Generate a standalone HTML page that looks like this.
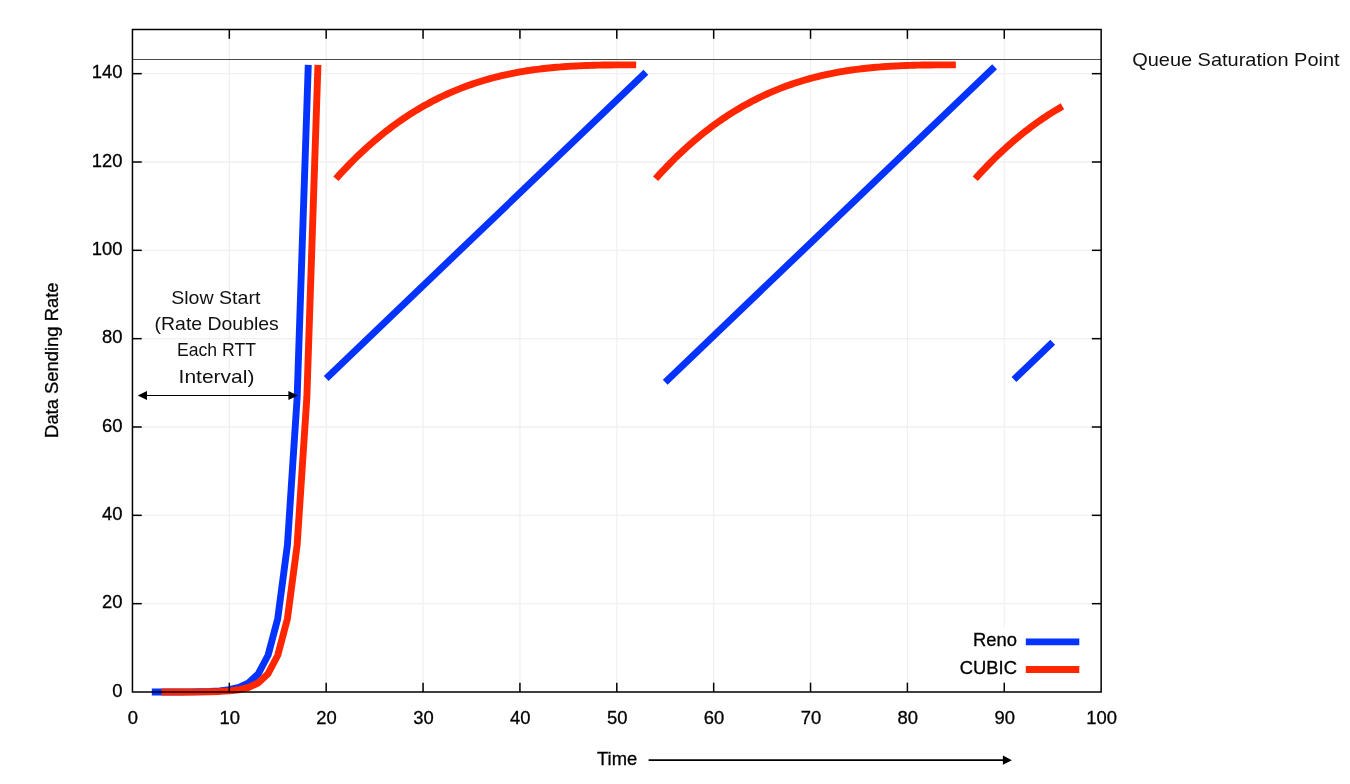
<!DOCTYPE html>
<html lang="en">
<head>
<meta charset="utf-8">
<title>Reno vs CUBIC</title>
<style>
html,body{margin:0;padding:0;background:#fff;}
body{width:1350px;height:784px;overflow:hidden;}
svg{display:block;}
text{font-family:"Liberation Sans",sans-serif;fill:#000;stroke:#000;stroke-width:0.3px;}
.tick{font-size:18.4px;}
.ann{font-size:18.6px;stroke:none;fill:#111;}
</style>
</head>
<body>
<svg width="1350" height="784" viewBox="0 0 1350 784">
<rect x="0" y="0" width="1350" height="784" fill="#ffffff"/>
<g stroke="#f0f0f0" stroke-width="1.3" fill="none">
<line x1="229.32" y1="29.5" x2="229.32" y2="692.0"/>
<line x1="326.19" y1="29.5" x2="326.19" y2="692.0"/>
<line x1="423.06" y1="29.5" x2="423.06" y2="692.0"/>
<line x1="519.93" y1="29.5" x2="519.93" y2="692.0"/>
<line x1="616.80" y1="29.5" x2="616.80" y2="692.0"/>
<line x1="713.67" y1="29.5" x2="713.67" y2="692.0"/>
<line x1="810.54" y1="29.5" x2="810.54" y2="692.0"/>
<line x1="907.41" y1="29.5" x2="907.41" y2="692.0"/>
<line x1="1004.28" y1="29.5" x2="1004.28" y2="692.0"/>
<line x1="132.45" y1="603.67" x2="1101.15" y2="603.67"/>
<line x1="132.45" y1="515.33" x2="1101.15" y2="515.33"/>
<line x1="132.45" y1="427.00" x2="1101.15" y2="427.00"/>
<line x1="132.45" y1="338.66" x2="1101.15" y2="338.66"/>
<line x1="132.45" y1="250.33" x2="1101.15" y2="250.33"/>
<line x1="132.45" y1="162.00" x2="1101.15" y2="162.00"/>
<line x1="132.45" y1="73.66" x2="1101.15" y2="73.66"/>
</g>
<rect x="948" y="628" width="152.15" height="55" fill="#ffffff"/>
<line x1="132.45" y1="59.5" x2="1101.15" y2="59.5" stroke="#4a4a4a" stroke-width="1.15"/>
<g fill="none" stroke="#0433ff" stroke-width="6.9" stroke-linejoin="round" stroke-linecap="butt">
<polyline points="151.82,691.99 161.51,691.98 171.20,691.96 180.88,691.93 190.57,691.86 200.26,691.71 209.95,691.43 219.63,690.85 229.32,689.70 239.01,687.41 248.69,682.81 258.38,673.63 268.07,655.25 277.75,618.51 287.44,545.01 297.13,398.02 308.27,64.83"/>
<polyline points="326.19,378.41 645.86,72.34"/>
<polyline points="665.23,382.17 994.59,66.82"/>
<polyline points="1013.97,379.41 1052.71,342.31"/>
</g>
<g fill="none" stroke="#ff2600" stroke-width="6.9" stroke-linejoin="round" stroke-linecap="butt">
<polyline points="161.51,691.99 171.20,691.98 180.88,691.96 190.57,691.93 200.26,691.86 209.95,691.71 219.63,691.43 229.32,690.85 239.01,689.70 248.69,687.41 258.38,682.81 268.07,673.63 277.75,655.25 287.44,618.51 297.13,545.01 306.82,398.02 317.96,64.83"/>
<polyline points="335.88,178.78 338.30,176.09 340.72,173.44 343.14,170.83 345.56,168.27 347.99,165.75 350.41,163.26 352.83,160.82 355.25,158.42 357.67,156.06 360.09,153.74 362.52,151.46 364.94,149.22 367.36,147.02 369.78,144.86 372.20,142.74 374.62,140.65 377.05,138.60 379.47,136.59 381.89,134.61 384.31,132.67 386.73,130.77 389.16,128.91 391.58,127.08 394.00,125.28 396.42,123.52 398.84,121.79 401.26,120.10 403.69,118.44 406.11,116.82 408.53,115.23 410.95,113.67 413.37,112.14 415.79,110.65 418.22,109.19 420.64,107.76 423.06,106.36 425.48,104.99 427.90,103.65 430.33,102.34 432.75,101.06 435.17,99.81 437.59,98.59 440.01,97.40 442.43,96.24 444.86,95.10 447.28,93.99 449.70,92.91 452.12,91.86 454.54,90.83 456.96,89.83 459.39,88.86 461.81,87.91 464.23,86.99 466.65,86.09 469.07,85.22 471.49,84.37 473.92,83.54 476.34,82.74 478.76,81.96 481.18,81.21 483.60,80.47 486.03,79.76 488.45,79.07 490.87,78.40 493.29,77.76 495.71,77.13 498.13,76.53 500.56,75.94 502.98,75.38 505.40,74.83 507.82,74.31 510.24,73.80 512.66,73.31 515.09,72.84 517.51,72.39 519.93,71.95 522.35,71.53 524.77,71.13 527.20,70.74 529.62,70.37 532.04,70.02 534.46,69.68 536.88,69.36 539.30,69.05 541.73,68.75 544.15,68.47 546.57,68.21 548.99,67.95 551.41,67.71 553.83,67.49 556.26,67.27 558.68,67.07 561.10,66.88 563.52,66.70 565.94,66.53 568.37,66.37 570.79,66.22 573.21,66.08 575.63,65.95 578.05,65.83 580.47,65.72 582.90,65.62 585.32,65.52 587.74,65.44 590.16,65.36 592.58,65.28 595.00,65.22 597.43,65.16 599.85,65.11 602.27,65.06 604.69,65.02 607.11,64.98 609.53,64.95 611.96,64.93 614.38,64.90 616.80,64.89 619.22,64.87 621.64,64.86 624.07,64.85 626.49,64.84 628.91,64.84 631.33,64.83 633.75,64.83 636.17,64.83"/>
<polyline points="655.55,178.78 657.97,176.09 660.39,173.44 662.81,170.83 665.23,168.27 667.66,165.75 670.08,163.26 672.50,160.82 674.92,158.42 677.34,156.06 679.77,153.74 682.19,151.46 684.61,149.22 687.03,147.02 689.45,144.86 691.87,142.74 694.30,140.65 696.72,138.60 699.14,136.59 701.56,134.61 703.98,132.67 706.40,130.77 708.83,128.91 711.25,127.08 713.67,125.28 716.09,123.52 718.51,121.79 720.94,120.10 723.36,118.44 725.78,116.82 728.20,115.23 730.62,113.67 733.04,112.14 735.47,110.65 737.89,109.19 740.31,107.76 742.73,106.36 745.15,104.99 747.57,103.65 750.00,102.34 752.42,101.06 754.84,99.81 757.26,98.59 759.68,97.40 762.11,96.24 764.53,95.10 766.95,93.99 769.37,92.91 771.79,91.86 774.21,90.83 776.64,89.83 779.06,88.86 781.48,87.91 783.90,86.99 786.32,86.09 788.74,85.22 791.17,84.37 793.59,83.54 796.01,82.74 798.43,81.96 800.85,81.21 803.27,80.47 805.70,79.76 808.12,79.07 810.54,78.40 812.96,77.76 815.38,77.13 817.81,76.53 820.23,75.94 822.65,75.38 825.07,74.83 827.49,74.31 829.91,73.80 832.34,73.31 834.76,72.84 837.18,72.39 839.60,71.95 842.02,71.53 844.44,71.13 846.87,70.74 849.29,70.37 851.71,70.02 854.13,69.68 856.55,69.36 858.97,69.05 861.40,68.75 863.82,68.47 866.24,68.21 868.66,67.95 871.08,67.71 873.51,67.49 875.93,67.27 878.35,67.07 880.77,66.88 883.19,66.70 885.61,66.53 888.04,66.37 890.46,66.22 892.88,66.08 895.30,65.95 897.72,65.83 900.14,65.72 902.57,65.62 904.99,65.52 907.41,65.44 909.83,65.36 912.25,65.28 914.68,65.22 917.10,65.16 919.52,65.11 921.94,65.06 924.36,65.02 926.78,64.98 929.21,64.95 931.63,64.93 934.05,64.90 936.47,64.89 938.89,64.87 941.31,64.86 943.74,64.85 946.16,64.84 948.58,64.84 951.00,64.83 953.42,64.83 955.85,64.83"/>
<polyline points="975.22,178.78 977.64,176.09 980.06,173.44 982.48,170.83 984.91,168.27 987.33,165.75 989.75,163.26 992.17,160.82 994.59,158.42 997.01,156.06 999.44,153.74 1001.86,151.46 1004.28,149.22 1006.70,147.02 1009.12,144.86 1011.55,142.74 1013.97,140.65 1016.39,138.60 1018.81,136.59 1021.23,134.61 1023.65,132.67 1026.08,130.77 1028.50,128.91 1030.92,127.08 1033.34,125.28 1035.76,123.52 1038.18,121.79 1040.61,120.10 1043.03,118.44 1045.45,116.82 1047.87,115.23 1050.29,113.67 1052.71,112.14 1055.14,110.65 1057.56,109.19 1059.98,107.76 1062.40,106.36"/>
</g>
<line x1="1025.8" y1="641.9" x2="1079.3" y2="641.9" stroke="#0433ff" stroke-width="6.9"/>
<line x1="1025.8" y1="669.5" x2="1079.3" y2="669.5" stroke="#ff2600" stroke-width="6.9"/>
<text class="tick" x="1017" y="646.3" text-anchor="end">Reno</text>
<text class="tick" x="1017" y="673.9" text-anchor="end">CUBIC</text>
<g stroke="#000" stroke-width="1.5" fill="none">
<line x1="229.32" y1="692.0" x2="229.32" y2="682.7"/>
<line x1="229.32" y1="29.5" x2="229.32" y2="38.8"/>
<line x1="326.19" y1="692.0" x2="326.19" y2="682.7"/>
<line x1="326.19" y1="29.5" x2="326.19" y2="38.8"/>
<line x1="423.06" y1="692.0" x2="423.06" y2="682.7"/>
<line x1="423.06" y1="29.5" x2="423.06" y2="38.8"/>
<line x1="519.93" y1="692.0" x2="519.93" y2="682.7"/>
<line x1="519.93" y1="29.5" x2="519.93" y2="38.8"/>
<line x1="616.80" y1="692.0" x2="616.80" y2="682.7"/>
<line x1="616.80" y1="29.5" x2="616.80" y2="38.8"/>
<line x1="713.67" y1="692.0" x2="713.67" y2="682.7"/>
<line x1="713.67" y1="29.5" x2="713.67" y2="38.8"/>
<line x1="810.54" y1="692.0" x2="810.54" y2="682.7"/>
<line x1="810.54" y1="29.5" x2="810.54" y2="38.8"/>
<line x1="907.41" y1="692.0" x2="907.41" y2="682.7"/>
<line x1="907.41" y1="29.5" x2="907.41" y2="38.8"/>
<line x1="1004.28" y1="692.0" x2="1004.28" y2="682.7"/>
<line x1="1004.28" y1="29.5" x2="1004.28" y2="38.8"/>
<line x1="132.45" y1="603.67" x2="141.75" y2="603.67"/>
<line x1="1101.15" y1="603.67" x2="1091.85" y2="603.67"/>
<line x1="132.45" y1="515.33" x2="141.75" y2="515.33"/>
<line x1="1101.15" y1="515.33" x2="1091.85" y2="515.33"/>
<line x1="132.45" y1="427.00" x2="141.75" y2="427.00"/>
<line x1="1101.15" y1="427.00" x2="1091.85" y2="427.00"/>
<line x1="132.45" y1="338.66" x2="141.75" y2="338.66"/>
<line x1="1101.15" y1="338.66" x2="1091.85" y2="338.66"/>
<line x1="132.45" y1="250.33" x2="141.75" y2="250.33"/>
<line x1="1101.15" y1="250.33" x2="1091.85" y2="250.33"/>
<line x1="132.45" y1="162.00" x2="141.75" y2="162.00"/>
<line x1="1101.15" y1="162.00" x2="1091.85" y2="162.00"/>
<line x1="132.45" y1="73.66" x2="141.75" y2="73.66"/>
<line x1="1101.15" y1="73.66" x2="1091.85" y2="73.66"/>
<rect x="132.45" y="29.5" width="968.70" height="662.50"/>
</g>
<text class="tick" x="132.85" y="724.2" text-anchor="middle">0</text>
<text class="tick" x="229.72" y="724.2" text-anchor="middle">10</text>
<text class="tick" x="326.59" y="724.2" text-anchor="middle">20</text>
<text class="tick" x="423.46" y="724.2" text-anchor="middle">30</text>
<text class="tick" x="520.33" y="724.2" text-anchor="middle">40</text>
<text class="tick" x="617.20" y="724.2" text-anchor="middle">50</text>
<text class="tick" x="714.07" y="724.2" text-anchor="middle">60</text>
<text class="tick" x="810.94" y="724.2" text-anchor="middle">70</text>
<text class="tick" x="907.81" y="724.2" text-anchor="middle">80</text>
<text class="tick" x="1004.68" y="724.2" text-anchor="middle">90</text>
<text class="tick" x="1101.55" y="724.2" text-anchor="middle">100</text>
<text class="tick" x="122.4" y="696.50" text-anchor="end">0</text>
<text class="tick" x="122.4" y="608.17" text-anchor="end">20</text>
<text class="tick" x="122.4" y="519.83" text-anchor="end">40</text>
<text class="tick" x="122.4" y="431.50" text-anchor="end">60</text>
<text class="tick" x="122.4" y="343.16" text-anchor="end">80</text>
<text class="tick" x="122.4" y="254.83" text-anchor="end">100</text>
<text class="tick" x="122.4" y="166.50" text-anchor="end">120</text>
<text class="tick" x="122.4" y="78.16" text-anchor="end">140</text>
<text class="tick" x="597" y="764.7">Time</text>
<text class="tick" transform="translate(58.1,360.2) rotate(-90)" text-anchor="middle">Data Sending Rate</text>
<line x1="648.6" y1="760.2" x2="1004" y2="760.2" stroke="#000" stroke-width="1.7"/>
<polygon points="1011.9,760.2 1002.9,755.6 1002.9,764.8" fill="#000"/>
<line x1="146" y1="395.5" x2="289.5" y2="395.5" stroke="#000" stroke-width="1.05"/>
<polygon points="137.7,395.5 147,390.9 147,400.1" fill="#000"/>
<polygon points="297.7,395.5 288.4,390.9 288.4,400.1" fill="#000"/>
<text class="ann" x="171.2" y="304.4" textLength="89.2" lengthAdjust="spacingAndGlyphs">Slow Start</text>
<text class="ann" x="154.6" y="330.4" textLength="124.2" lengthAdjust="spacingAndGlyphs">(Rate Doubles</text>
<text class="ann" x="177.0" y="356.4" textLength="79.0" lengthAdjust="spacingAndGlyphs">Each RTT</text>
<text class="ann" x="178.6" y="382.5" textLength="75.8" lengthAdjust="spacingAndGlyphs">Interval)</text>
<text class="ann" x="1132.2" y="66.4" textLength="207.4" lengthAdjust="spacingAndGlyphs">Queue Saturation Point</text>
</svg>
</body>
</html>
